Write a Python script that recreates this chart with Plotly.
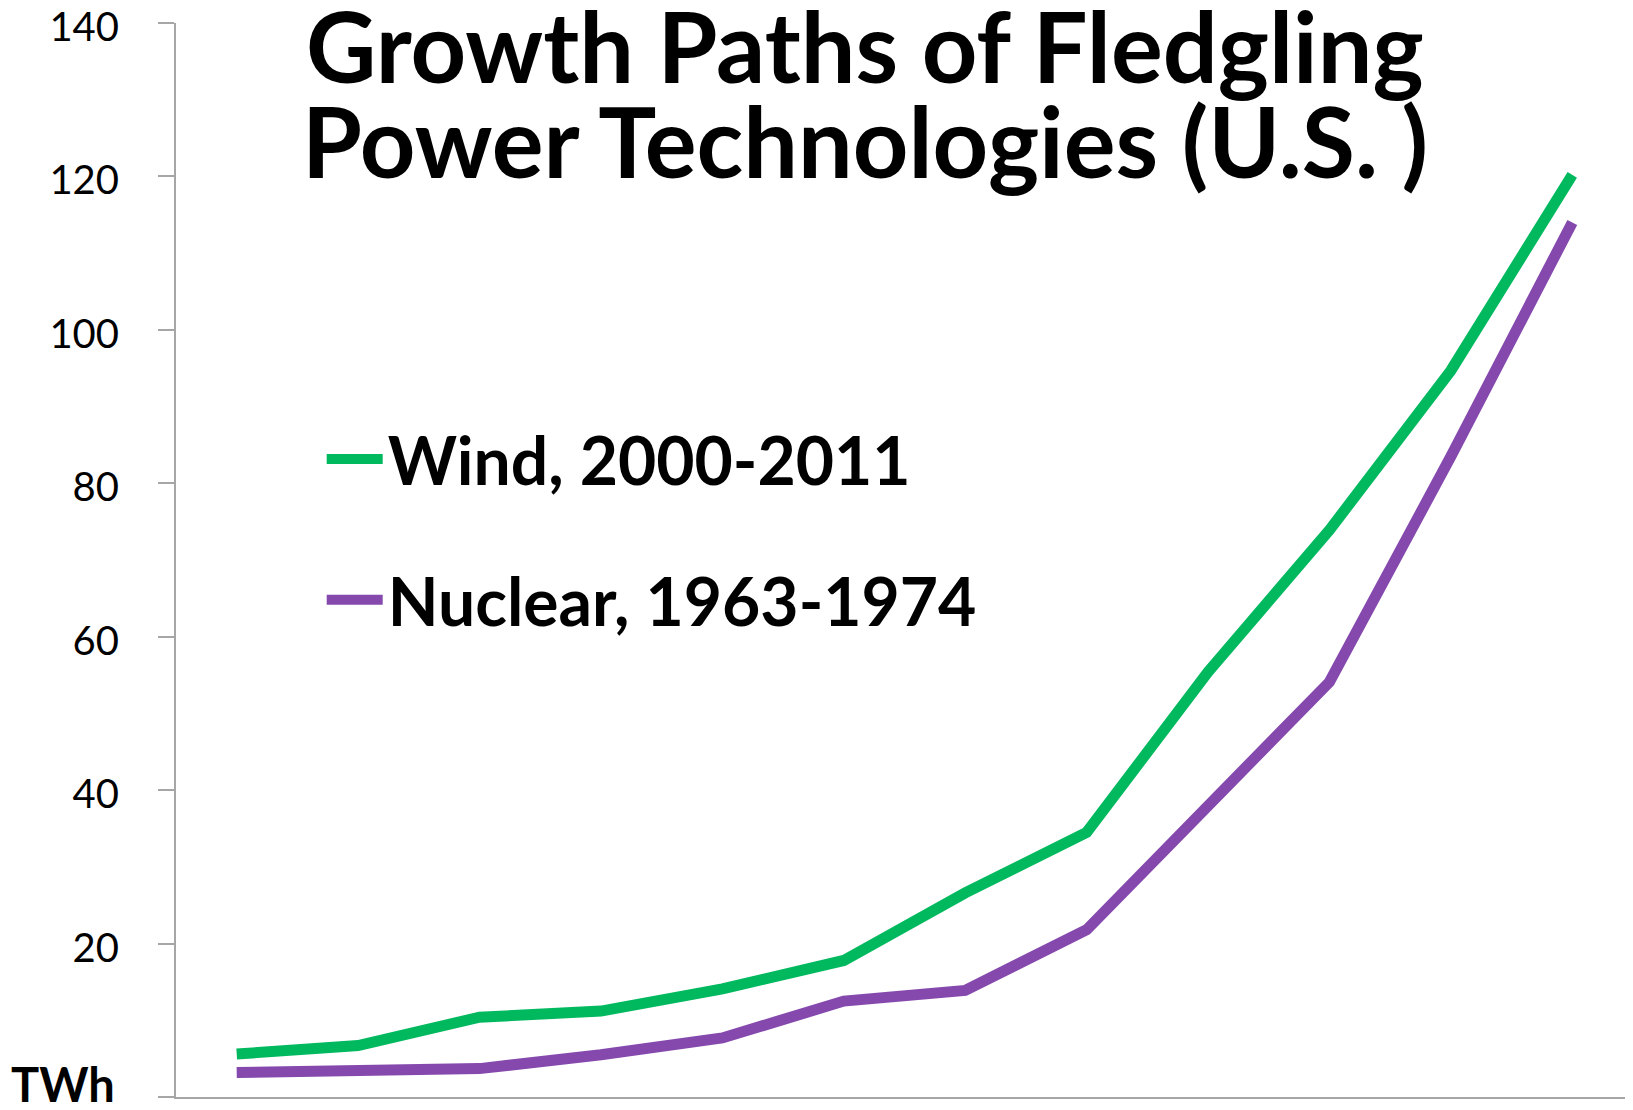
import plotly.graph_objects as go

# year of each technology's growth path (1 = first year)
year_index = list(range(1, 13))
wind_twh = [5.6, 6.7, 10.4, 11.2, 14.1, 17.8, 26.6, 34.5, 55.4, 73.9, 94.7, 120.2]
nuclear_twh = [3.2, 3.3, 3.7, 5.5, 7.7, 12.5, 13.9, 21.8, 38.1, 54.1, 83.5, 114.0]
y_ticks = [0, 20, 40, 60, 80, 100, 120, 140]
y_tick_text = ['', '20', '40', '60', '80', '100', '120', '140']  # 0 is labelled "TWh" instead

GREEN = '#00B95F'
PURPLE = '#8549AE'
AXIS = '#A6A6A6'
FONT = 'Lato'

fig = go.Figure()
fig.add_trace(go.Scatter(x=year_index, y=wind_twh, name='<b>Wind, 2000-2011</b>', mode='lines',
                         line=dict(color=GREEN, width=11), legendgroup='wind'))
fig.add_trace(go.Scatter(x=year_index, y=nuclear_twh, name='<b>Nuclear, 1963-1974</b>', mode='lines',
                         line=dict(color=PURPLE, width=11), legendgroup='nuclear'))

fig.update_xaxes(range=[0.5, 12.5], showline=True, linecolor=AXIS, linewidth=2, automargin=False,
                 showticklabels=False, ticks='', showgrid=False, zeroline=False)
fig.update_yaxes(range=[0, 140], tickvals=y_ticks, ticktext=y_tick_text,
                 showline=True, linecolor=AXIS, linewidth=2, automargin=False,
                 ticks='outside', ticklen=16, tickwidth=2, tickcolor=AXIS,
                 ticklabelstandoff=31, ticklabelshift=4, ticklabeloverflow='allow',
                 tickfont=dict(family=FONT, size=40, color='black'),
                 showgrid=False, zeroline=False)

fig.add_annotation(text='<b>Growth Paths of Fledgling</b>', x=0.473, y=0.979, xref='paper', yref='paper',
                   xanchor='center', yanchor='middle', showarrow=False,
                   font=dict(family=FONT, size=97, color='black'))
fig.add_annotation(text='<b>Power Technologies (U.S. )</b>', x=0.473, y=0.891, xref='paper', yref='paper',
                   xanchor='center', yanchor='middle', showarrow=False,
                   font=dict(family=FONT, size=97, color='black'))
fig.add_annotation(text='<b>TWh</b>', x=-0.1147, y=0.012, xref='paper', yref='paper',
                   xanchor='left', yanchor='middle', showarrow=False,
                   font=dict(family=FONT, size=47, color='black'))

# the page body adds an 8px offset, so the figure is 8px smaller than the window
fig.update_layout(
    width=1625, height=1102,
    margin=dict(l=168, r=0, t=15, b=13, autoexpand=False),
    template='simple_white',
    plot_bgcolor='white', paper_bgcolor='white',
    showlegend=True,
    legend=dict(x=0.10, y=0.640, xanchor='left', yanchor='top', itemwidth=56,
                tracegroupgap=52, font=dict(family=FONT, size=66, color='black'),
                bgcolor='rgba(0,0,0,0)'),
    hovermode='x',
)

fig.write_html('out.html')
